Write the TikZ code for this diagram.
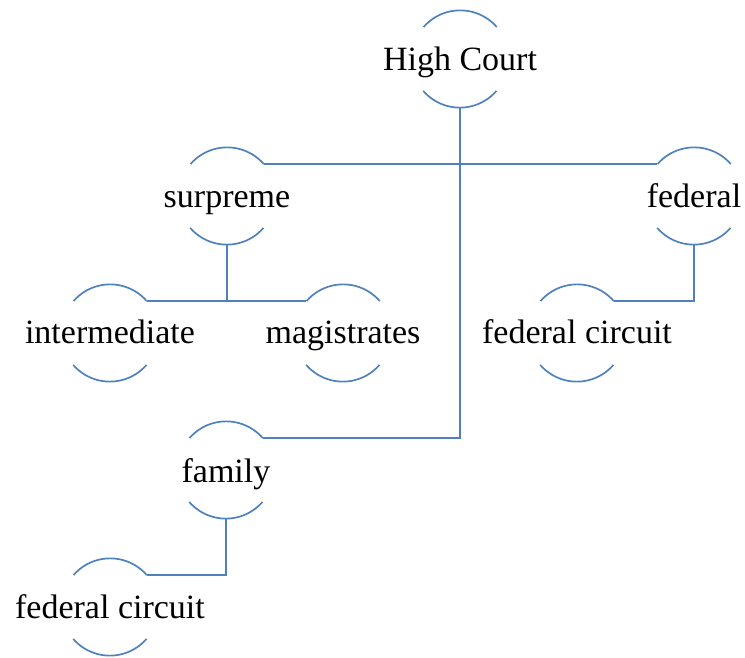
\documentclass[tikz,border=0pt]{standalone}
\usepackage{fontspec}
\setmainfont{Liberation Serif}
\definecolor{lineblue}{HTML}{4F81BD}
\tikzset{
  courtcirc/.style={circle, minimum size=97pt, inner sep=0pt, draw=none},
  courtlbl/.style={anchor=base, inner sep=0pt, font=\fontsize{34}{40}\selectfont, text=black},
  arcline/.style={draw=lineblue, line width=1.7pt},
  conn/.style={draw=lineblue, line width=1.7pt}
}
\newcommand\courtarcs[1]{%
  \draw[arcline] (#1.41) arc[start angle=41, end angle=139, radius=48.5pt];
  \draw[arcline] (#1.221) arc[start angle=221, end angle=319, radius=48.5pt];
}
\begin{document}
\begin{tikzpicture}[x=1pt,y=1pt]
\useasboundingbox (0,0) rectangle (745,657);
% circles (invisible) as anchors
\node[courtcirc] (hc)  at (460,598) {};
\node[courtcirc] (sup) at (227,461) {};
\node[courtcirc] (fed) at (694,461) {};
\node[courtcirc] (int) at (110,324) {};
\node[courtcirc] (mag) at (343,324) {};
\node[courtcirc] (fc1) at (577,324) {};
\node[courtcirc] (fam) at (226,187) {};
\node[courtcirc] (fc2) at (110,50) {};
% labels
\node[courtlbl] (hct)  at ([yshift=-12pt]hc.center)  {High Court};
\node[courtlbl] (supt) at ([yshift=-12pt]sup.center) {surpreme};
\node[courtlbl] (fedt) at ([yshift=-12pt]fed.center) {federal};
\node[courtlbl] (intt) at ([yshift=-11pt]int.center) {intermediate};
\node[courtlbl] (magt) at ([yshift=-11pt]mag.center) {magistrates};
\node[courtlbl] (fc1t) at ([yshift=-11pt]fc1.center) {federal circuit};
\node[courtlbl] (famt) at ([yshift=-12pt]fam.center) {family};
\node[courtlbl] (fc2t) at ([yshift=-11pt]fc2.center) {federal circuit};
% arcs
\courtarcs{hc}
\courtarcs{sup}
\courtarcs{fed}
\courtarcs{int}
\courtarcs{mag}
\courtarcs{fc1}
\courtarcs{fam}
\courtarcs{fc2}
% connectors
\draw[conn] (sup.41) -- (fed.139);
\draw[conn] (hc.south) -- (hc.south |- fam.41) -- (fam.41);
\draw[conn] (sup.south) -- (sup.south |- int.41);
\draw[conn] (int.41) -- (mag.139);
\draw[conn] (fed.south) |- (fc1.41);
\draw[conn] (fam.south) |- (fc2.41);
\end{tikzpicture}
\end{document}
